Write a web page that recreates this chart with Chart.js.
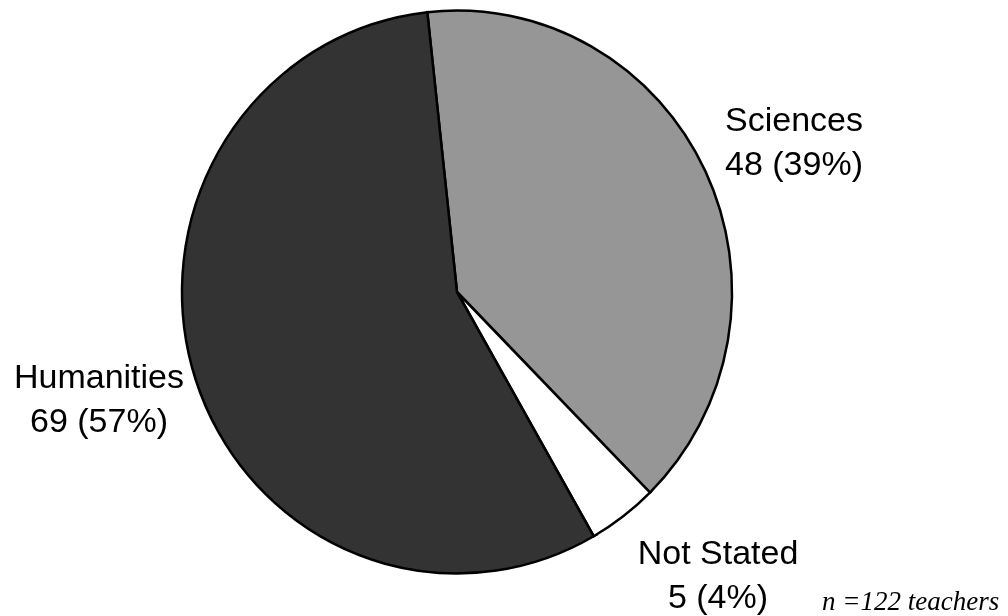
<!DOCTYPE html>
<html>
<head>
<meta charset="utf-8">
<script src="https://cdn.jsdelivr.net/npm/chart.js@4/dist/chart.umd.min.js"></script>
<style>
  html, body { margin: 0; padding: 0; background: #ffffff; }
  #wrap { position: relative; width: 1008px; height: 616px; }
</style>
</head>
<body>
<div id="wrap"><canvas id="pie"></canvas></div>
<script>
// Teachers by subject area
const categories = ['Sciences', 'Not Stated', 'Humanities'];
const teacherCounts = [48, 5, 69];
const percentLabels = ['39%', '4%', '57%'];
const sampleNote = 'n =122 teachers';

const sliceColors = ['#969696', '#ffffff', '#333333'];

// Where each two-line label sits (centre x, first baseline y)
const labelPlacement = {
  'Sciences':   { x: 794, y: 131 },
  'Not Stated': { x: 718, y: 564 },
  'Humanities': { x: 99,  y: 388 }
};
const labelLineGap = 44;
const pieStretchY = 1.0236;   // pie is drawn slightly taller than wide

const stretchPie = {
  id: 'stretchPie',
  beforeDatasetsDraw(chart) {
    const arc = chart.getDatasetMeta(0).data[0];
    const ctx = chart.ctx;
    ctx.save();
    ctx.translate(arc.x, arc.y);
    ctx.scale(1, pieStretchY);
    ctx.translate(-arc.x, -arc.y);
  },
  afterDatasetsDraw(chart) {
    chart.ctx.restore();
  }
};

const sliceLabels = {
  id: 'sliceLabels',
  afterDraw(chart) {
    const ctx = chart.ctx;
    ctx.save();
    ctx.fillStyle = '#000000';
    ctx.font = '34px "Liberation Sans", Arial, sans-serif';
    ctx.textAlign = 'center';
    ctx.textBaseline = 'alphabetic';
    categories.forEach((name, i) => {
      const p = labelPlacement[name];
      ctx.fillText(name, p.x, p.y);
      ctx.fillText(teacherCounts[i] + ' (' + percentLabels[i] + ')', p.x, p.y + labelLineGap);
    });
    ctx.font = 'italic 27px "Liberation Serif", "Times New Roman", serif';
    ctx.textAlign = 'left';
    ctx.fillText(sampleNote, 822, 610);
    ctx.restore();
  }
};

new Chart(document.getElementById('pie'), {
  type: 'pie',
  data: {
    labels: categories,
    datasets: [{
      data: teacherCounts,
      backgroundColor: sliceColors,
      borderColor: '#000000',
      borderWidth: 2.5,
      borderJoinStyle: 'miter',
      hoverOffset: 0
    }]
  },
  options: {
    responsive: true,
    maintainAspectRatio: false,
    animation: false,
    rotation: -6.2,
    radius: 275,
    layout: { padding: { left: 0, right: 94, top: 0, bottom: 32 } },
    plugins: {
      legend: { display: false },
      tooltip: { enabled: false }
    },
    events: []
  },
  plugins: [stretchPie, sliceLabels]
});
</script>
</body>
</html>
